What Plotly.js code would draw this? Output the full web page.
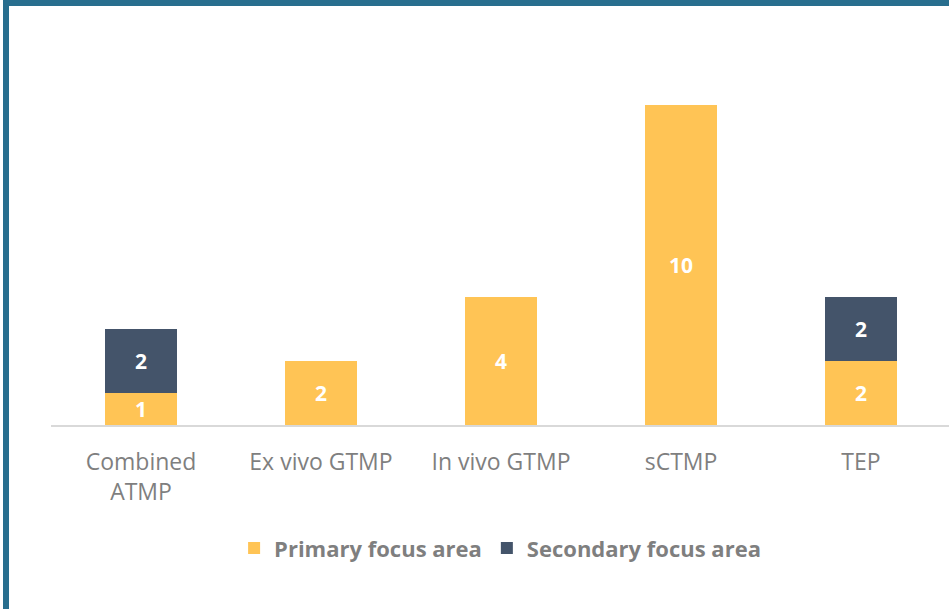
<!DOCTYPE html>
<html>
<head>
<meta charset="utf-8">
<script src="https://cdn.plot.ly/plotly-3.0.1.min.js"></script>
<style>
  html, body { margin: 0; padding: 0; background: #fff; overflow: hidden; }
  #frame {
    position: absolute; left: 3px; top: 0; width: 946px; height: 609px;
    border-top: 6px solid #286E8E; border-left: 6px solid #286E8E;
    box-sizing: border-box; overflow: hidden;
  }
  #plot { position: absolute; left: -9px; top: -6px; width: 960px; height: 609px; }
</style>
</head>
<body>
<div id="frame"><div id="plot"></div></div>
<script>
  // categories and values
  var categories = ['Combined<br>ATMP', 'Ex vivo GTMP', 'In vivo GTMP', 'sCTMP', 'TEP'];
  var primary = [1, 2, 4, 10, 2];
  var secondary = [2, null, null, null, 2];

  var fam = '"Open Sans", Lato, sans-serif';
  var labelFont = { family: fam, size: 21, color: '#ffffff', weight: 'bold' };

  var trace1 = {
    x: categories, y: primary, type: 'bar', name: 'Primary focus area',
    marker: { color: '#FFC455' }, width: 0.4,
    text: primary.map(String), textposition: 'inside', insidetextanchor: 'middle',
    textangle: 0, constraintext: 'none', textfont: labelFont, hoverinfo: 'none'
  };
  var trace2 = {
    x: categories, y: secondary, type: 'bar', name: 'Secondary focus area',
    marker: { color: '#44546A' }, width: 0.4,
    text: secondary.map(function (v) { return v == null ? '' : String(v); }),
    textposition: 'inside', insidetextanchor: 'middle',
    textangle: 0, constraintext: 'none', textfont: labelFont, hoverinfo: 'none'
  };

  var layout = {
    width: 960, height: 609,
    margin: { l: 51, r: 9, t: 57, b: 184 },
    barmode: 'stack',
    paper_bgcolor: '#ffffff', plot_bgcolor: '#ffffff',
    font: { family: fam, color: '#7F7F7F' },
    xaxis: {
      type: 'category', showline: true, linecolor: '#D9D9D9', linewidth: 2,
      ticks: '', ticklabelstandoff: 15,
      tickfont: { size: 23, color: '#7F7F7F' }
    },
    yaxis: {
      range: [0, 11.5], showgrid: false, zeroline: false,
      showticklabels: false, ticks: ''
    },
    showlegend: true,
    legend: {
      orientation: 'h', x: 0.499, xanchor: 'center', y: -0.335, yanchor: 'middle',
      font: { size: 22, color: '#7F7F7F', weight: 'bold' },
      itemwidth: 30, traceorder: 'normal'
    },
    bargap: 0.6
  };

  Plotly.newPlot('plot', [trace1, trace2], layout, { staticPlot: true, displayModeBar: false });
</script>
</body>
</html>
